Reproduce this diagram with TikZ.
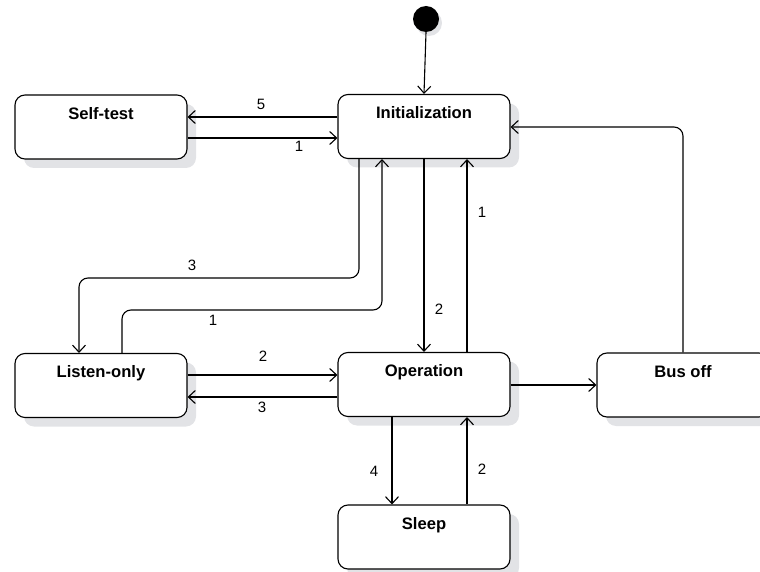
\documentclass[tikz,border=0pt]{standalone}
\usepackage{fontspec}
\setmainfont{Liberation Sans}
\usetikzlibrary{arrows.meta,calc}
\definecolor{shadowgray}{HTML}{E2E3E6}
\tikzset{
  statebox/.style={draw=black, line width=1.1pt, rounded corners=10pt, fill=white,
    minimum width=172pt, minimum height=64pt, inner sep=0pt, text=black},
  title/.style={font=\bfseries\fontsize{16.6pt}{18pt}\selectfont, anchor=base},
  conn/.style={draw=black, line width=1.1pt, -{Straight Barb[length=7pt,width=13pt,line width=1.1pt]}},
  lbl/.style={font=\fontsize{15pt}{16pt}\selectfont, text=black, inner sep=0pt},
}
\begin{document}
\begin{tikzpicture}[x=1pt,y=-1pt]
\useasboundingbox (0,0) rectangle (760,572);
% shadows
\foreach \cx/\cy in {101/127,424/126.5,101/385.5,424/384.5,683/385,424/537}{
  \fill[shadowgray, rounded corners=10pt] (\cx-86+9,\cy-32+9) rectangle (\cx+86+9,\cy+32+9);
}
\fill[shadowgray] (429,23) circle (13);
% initial state
\node[circle, fill=black, minimum size=26pt, inner sep=0pt] (start) at (426,19) {};
% states
\node[statebox] (self) at (101,127) {};
\node[statebox] (init) at (424,126.5) {};
\node[statebox] (listen) at (101,385.5) {};
\node[statebox] (oper) at (424,384.5) {};
\node[statebox] (bus) at (683,385) {};
\node[statebox] (sleep) at (424,537) {};
\node[title] (tself) at ($(self.north)+(0,-25pt)$) {Self-test};
\node[title] (tinit) at ($(init.north)+(0,-25pt)$) {Initialization};
\node[title] (tlisten) at ($(listen.north)+(0,-25pt)$) {Listen-only};
\node[title] (toper) at ($(oper.north)+(0,-25pt)$) {Operation};
\node[title] (tbus) at ($(bus.north)+(0,-25pt)$) {Bus off};
\node[title] (tsleep) at ($(sleep.north)+(0,-25pt)$) {Sleep};
% connectors
\draw[conn] (start.south) -- (init.north);
\draw[conn] (init.west |- 0,117) -- (self.east |- 0,117);
\node[lbl] (l5) at (261,104) {5};
\draw[conn] (self.east |- 0,138) -- (init.west |- 0,138);
\node[lbl] (l1a) at (299,146) {1};
\draw[conn, rounded corners=9pt] (359,0 |- init.south) -- (359,278) -- (79,278) -- (79,0 |- listen.north);
\node[lbl] (l3a) at (192,265) {3};
\draw[conn, rounded corners=9pt] (122,0 |- listen.north) -- (122,310) -- (382,310) -- (382,0 |- init.south);
\node[lbl] (l1b) at (213,320) {1};
\draw[conn] (init.south) -- (oper.north);
\node[lbl] (l2a) at (439,309) {2};
\draw[conn] (467,0 |- oper.north) -- (467,0 |- init.south);
\node[lbl] (l1c) at (482,212) {1};
\draw[conn] (listen.east |- 0,375) -- (oper.west |- 0,375);
\node[lbl] (l2b) at (263,356) {2};
\draw[conn] (oper.west |- 0,397) -- (listen.east |- 0,397);
\node[lbl] (l3b) at (262,407) {3};
\draw[conn] (oper.east |- 0,385) -- (bus.west |- 0,385);
\draw[conn, rounded corners=9pt] (bus.north) -- (683,127) -- (init.east |- 0,127);
\draw[conn] (392,0 |- oper.south) -- (392,0 |- sleep.north);
\node[lbl] (l4) at (374,471) {4};
\draw[conn] (467,0 |- sleep.north) -- (467,0 |- oper.south);
\node[lbl] (l2c) at (482,469) {2};
\end{tikzpicture}
\end{document}
